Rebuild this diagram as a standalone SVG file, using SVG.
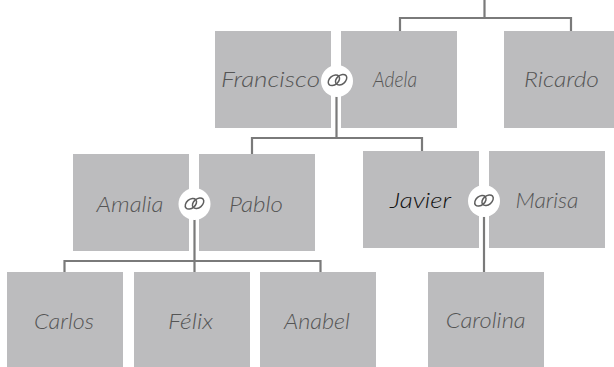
<svg xmlns="http://www.w3.org/2000/svg" width="614" height="367" viewBox="0 0 614 367">
<style>
.box{fill:#bcbcbe}
.lbl{font-family:"Lato","Open Sans","DejaVu Sans",sans-serif;font-weight:300;font-style:italic;font-size:22px;fill:#555;text-anchor:middle}
.dark{fill:#111}
.conn{fill:none;stroke:#7a7a7a;stroke-width:2.2}
.ringbg{fill:#fff}
.ring{fill:none;stroke:#5e5e5e;stroke-width:1.5}
</style>
<defs>
<g id="rings">
<ellipse cx="0" cy="0" rx="6.4" ry="4.4" transform="translate(-3.6 0.3) rotate(-40)"/>
<ellipse cx="0" cy="0" rx="6.4" ry="4.4" transform="translate(3.6 -0.3) rotate(-40)"/>
</g>
</defs>
<rect width="614" height="367" fill="#fff"/>
<g id="connectors" class="conn">
<path d="M484.5 0V18M400 18H571M400 17V31M571 17V31"/>
<path d="M336.5 96V138M252 138H422M252 137V154M422 137V151"/>
<path d="M194.5 219V261M64.5 261H320.5M64.5 260V272M194.5 260V272M320.5 260V272"/>
<path d="M484 216V272"/>
</g>
<g id="francisco"><rect class="box" x="215" y="31" width="116" height="97"/><text class="lbl" x="270.5" y="87" textLength="99" lengthAdjust="spacingAndGlyphs">Francisco</text></g>
<g id="adela"><rect class="box" x="341" y="31" width="116" height="97"/><text class="lbl" x="395" y="87" textLength="44" lengthAdjust="spacingAndGlyphs">Adela</text></g>
<g id="ricardo"><rect class="box" x="504" y="31" width="116" height="97"/><text class="lbl" x="561.5" y="87" textLength="75" lengthAdjust="spacingAndGlyphs">Ricardo</text></g>
<g id="amalia"><rect class="box" x="73" y="154" width="116" height="97"/><text class="lbl" x="130" y="211.5" textLength="67" lengthAdjust="spacingAndGlyphs">Amalia</text></g>
<g id="pablo"><rect class="box" x="199" y="154" width="116" height="97"/><text class="lbl" x="256" y="211.5" textLength="54" lengthAdjust="spacingAndGlyphs">Pablo</text></g>
<g id="javier"><rect class="box" x="363" y="151" width="116" height="97"/><text class="lbl dark" x="420.5" y="208" textLength="61" lengthAdjust="spacingAndGlyphs">Javier</text></g>
<g id="marisa"><rect class="box" x="489" y="151" width="116" height="97"/><text class="lbl" x="547" y="208" textLength="63" lengthAdjust="spacingAndGlyphs">Marisa</text></g>
<g id="carlos"><rect class="box" x="7" y="272" width="116" height="95"/><text class="lbl" x="64" y="329" textLength="60" lengthAdjust="spacingAndGlyphs">Carlos</text></g>
<g id="felix"><rect class="box" x="134" y="272" width="116" height="95"/><text class="lbl" x="190.5" y="329" textLength="45" lengthAdjust="spacingAndGlyphs">Félix</text></g>
<g id="anabel"><rect class="box" x="260" y="272" width="116" height="95"/><text class="lbl" x="317" y="328.5" textLength="66" lengthAdjust="spacingAndGlyphs">Anabel</text></g>
<g id="carolina"><rect class="box" x="428" y="272" width="116" height="95"/><text class="lbl" x="485.7" y="328" textLength="80" lengthAdjust="spacingAndGlyphs">Carolina</text></g>
<g id="ring-francisco-adela"><circle class="ringbg" cx="337" cy="81" r="16"/><use href="#rings" class="ring" x="337.5" y="80"/></g>
<g id="ring-amalia-pablo"><circle class="ringbg" cx="194.5" cy="204" r="16"/><use href="#rings" class="ring" x="194.5" y="203.5"/></g>
<g id="ring-javier-marisa"><circle class="ringbg" cx="484" cy="201" r="16"/><use href="#rings" class="ring" x="484" y="200.5"/></g>
</svg>
